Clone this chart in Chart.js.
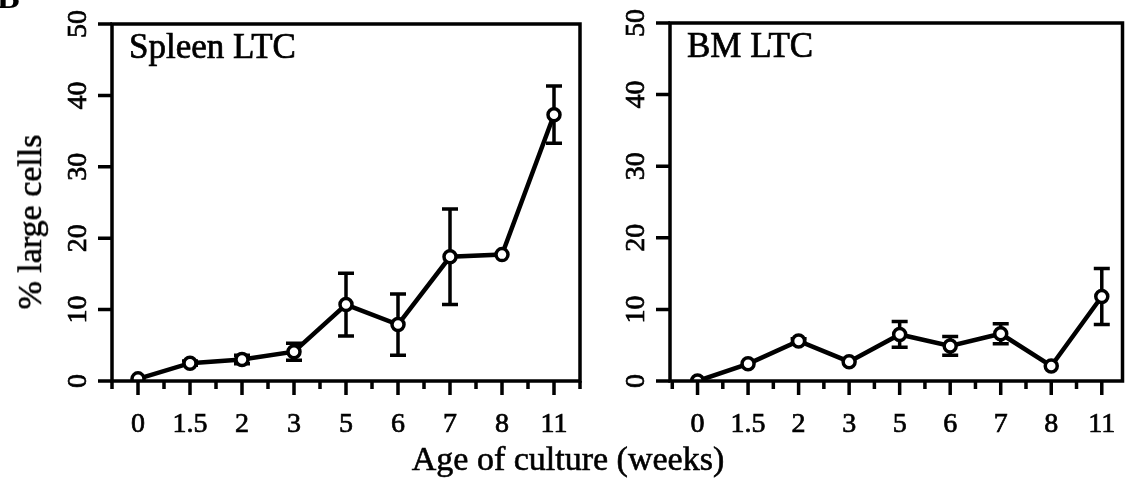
<!DOCTYPE html>
<html>
<head>
<meta charset="utf-8">
<script src="https://cdn.jsdelivr.net/npm/chart.js@4/dist/chart.umd.min.js"></script>
<style>
    body { margin: 0; background: #fff; }
    #wrap { position: relative; width: 1132px; height: 487px; overflow: hidden; font-family: "Liberation Serif", "DejaVu Serif", serif; color: #000; }
    #leftBox { position: absolute; left: 0; top: 0; width: 600px; height: 487px; }
    #rightBox { position: absolute; left: 600px; top: 0; width: 532px; height: 487px; }
    .ytitle { position: absolute; left: 30px; top: 222px; transform: translate(-50%, -50%) rotate(-90deg); font-size: 34px; white-space: nowrap; -webkit-text-stroke: 0.6px #000; }
    .xtitle { position: absolute; left: 568px; top: 459px; transform: translate(-50%, -50%); font-size: 34px; white-space: nowrap; -webkit-text-stroke: 0.6px #000; }
</style>
</head>
<body>
<div id="wrap">
    <div id="leftBox"><canvas id="spleenChart"></canvas></div>
    <div id="rightBox"><canvas id="bmChart"></canvas></div>
    <div class="ytitle">% large cells</div>
    <div class="xtitle">Age of culture (weeks)</div>
</div>
<script>
// ================= DATA =================
const weeks = ["0", "1.5", "2", "3", "5", "6", "7", "8", "11"];
const yTicks = [0, 10, 20, 30, 40, 50];

const spleenMean = [0.3, 2.5, 3.0, 4.1, 10.7, 7.9, 17.4, 17.7, 37.3];
const spleenErr  = [0, 0.3, 0.6, 1.2, 4.4, 4.3, 6.7, 0, 4.0];

const bmMean = [0, 2.4, 5.6, 2.7, 6.5, 4.9, 6.6, 2.1, 11.8];
const bmErr  = [0, 0, 0.3, 0, 1.8, 1.3, 1.4, 0, 3.9];

const serif = "'Liberation Serif', 'DejaVu Serif', serif";

// draw text a little heavier, like the printed figure
function inkText(ctx, t, x, y) {
    ctx.fillText(t, x, y);
    ctx.lineWidth = 0.7;
    ctx.strokeText(t, x, y);
}

// frame, tick marks, rotated y labels, error bars, panel label
const panelPlugin = {
    id: "panel",
    beforeDatasetsDraw(chart, args, opts) {
        const ctx = chart.ctx;
        const x = chart.scales.x, y = chart.scales.y;
        ctx.save();
        ctx.strokeStyle = "#000";
        ctx.lineWidth = 3.5;
        opts.err.forEach((e, i) => {
            if (!e) return;
            const px = x.getPixelForValue(i);
            const top = y.getPixelForValue(opts.mean[i] + e);
            const bot = y.getPixelForValue(opts.mean[i] - e);
            ctx.beginPath();
            ctx.moveTo(px, top); ctx.lineTo(px, bot);
            ctx.moveTo(px - 8, top); ctx.lineTo(px + 8, top);
            ctx.moveTo(px - 8, bot); ctx.lineTo(px + 8, bot);
            ctx.stroke();
        });
        ctx.restore();
    },
    afterDraw(chart, args, opts) {
        const ctx = chart.ctx;
        const a = chart.chartArea;
        const x = chart.scales.x, y = chart.scales.y;
        ctx.save();
        ctx.strokeStyle = "#000";
        ctx.fillStyle = "#000";
        ctx.lineWidth = 3.5;
        ctx.strokeRect(a.left, a.top, a.right - a.left, a.bottom - a.top);

        // x ticks: long at categories, short in between
        ctx.beginPath();
        for (let i = -1; i < weeks.length; i++) {
            const mid = i + 0.5;
            if (mid >= x.min && mid <= x.max) {
                const pm = x.getPixelForValue(mid);
                ctx.moveTo(pm, a.bottom); ctx.lineTo(pm, a.bottom + 8);
            }
            if (i >= 0) {
                const p = x.getPixelForValue(i);
                ctx.moveTo(p, a.bottom); ctx.lineTo(p, a.bottom + 14);
            }
        }
        // y ticks outward
        yTicks.forEach(v => {
            const p = y.getPixelForValue(v);
            ctx.moveTo(a.left - 14, p); ctx.lineTo(a.left, p);
        });
        ctx.stroke();

        // rotated y labels
        ctx.font = "28px " + serif;
        ctx.textAlign = "center";
        ctx.textBaseline = "middle";
        yTicks.forEach(v => {
            ctx.save();
            ctx.translate(a.left - 33, y.getPixelForValue(v));
            ctx.rotate(-Math.PI / 2);
            inkText(ctx, String(v), 0, 0);
            ctx.restore();
        });

        // x labels under the long ticks
        weeks.forEach((w, i) => {
            inkText(ctx, w, x.getPixelForValue(i), a.bottom + 44);
        });

        // panel name
        ctx.font = "35px " + serif;
        ctx.textAlign = "left";
        ctx.textBaseline = "alphabetic";
        inkText(ctx, opts.name, a.left + 17, a.top + 34);
        if (opts.corner) {
            ctx.font = "bold 34px " + serif;
            ctx.fillText(opts.corner, -3, 8);
        }
        ctx.restore();
    }
};

function makePanel(id, mean, err, name, xMin, xMax, yWidth, pad, corner) {
    return new Chart(document.getElementById(id), {
        type: "line",
        data: {
            datasets: [{
                data: mean.map((v, i) => ({ x: i, y: v })),
                borderColor: "#000",
                borderWidth: 4.5,
                tension: 0,
                pointRadius: 6,
                pointBorderWidth: 3.5,
                pointBackgroundColor: "#fff",
                pointBorderColor: "#000"
            }]
        },
        options: {
            responsive: false,
            animation: false,
            layout: { padding: pad },
            plugins: {
                legend: { display: false },
                tooltip: { enabled: false },
                panel: { mean: mean, err: err, name: name, corner: corner }
            },
            scales: {
                x: {
                    type: "linear",
                    min: xMin,
                    max: xMax,
                    grid: { display: false },
                    border: { display: false },
                    afterBuildTicks: s => { s.ticks = weeks.map((w, i) => ({ value: i })); },
                    afterFit: s => { s.height = 487 - 381 - pad.bottom; },
                    ticks: { display: false }
                },
                y: {
                    min: 0,
                    max: 50,
                    grid: { display: false },
                    border: { display: false },
                    ticks: { display: false, stepSize: 10 },
                    afterFit: s => { s.width = yWidth; }
                }
            }
        },
        plugins: [panelPlugin]
    });
}

function sizeCanvas(id, w, h) {
    const c = document.getElementById(id);
    c.width = w; c.height = h;
    c.style.width = w + "px"; c.style.height = h + "px";
}

sizeCanvas("spleenChart", 600, 487);
sizeCanvas("bmChart", 532, 487);

// ================= PANELS =================
makePanel("spleenChart", spleenMean, spleenErr, "Spleen LTC", -0.5, 8.5, 112,
    { left: 0, top: 24, right: 20, bottom: 0 }, "B");
makePanel("bmChart", bmMean, bmErr, "BM LTC", -0.545, 8.41, 70,
    { left: 0, top: 23, right: 2, bottom: 0 }, null);
</script>
</body>
</html>
